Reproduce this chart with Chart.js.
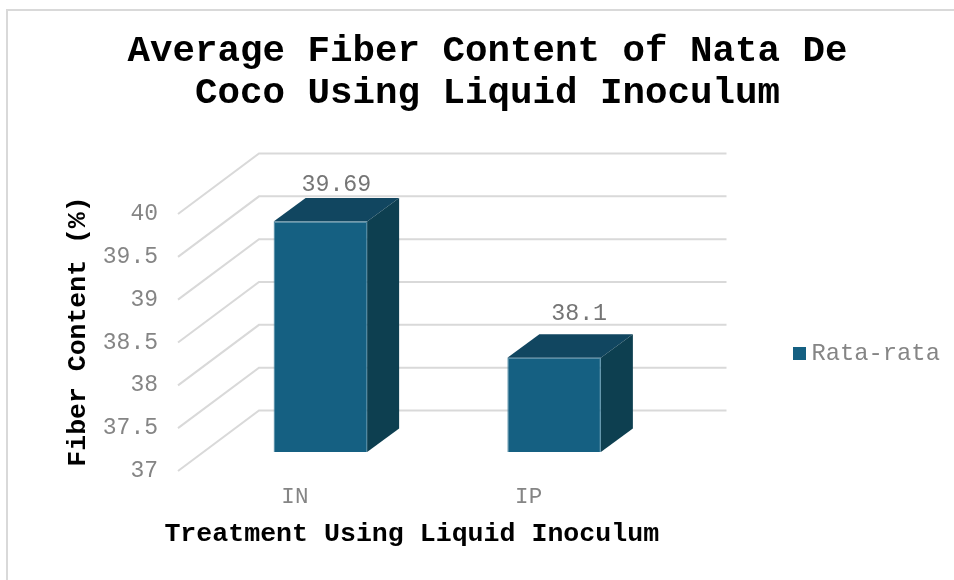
<!DOCTYPE html>
<html>
<head>
<meta charset="utf-8">
<style>
  html, body { margin: 0; padding: 0; background: #fff; }
  canvas { display: block; }
</style>
<script src="https://cdn.jsdelivr.net/npm/chart.js@4"></script>
</head>
<body>
<canvas id="chart" width="954" height="580"></canvas>
<script>
const categories = ['IN', 'IP'];
const seriesName = 'Rata-rata';
const averages = [39.69, 38.1];
const valueLabels = ['39.69', '38.1'];
const chartTitle = ['Average Fiber Content of Nata De', 'Coco Using Liquid Inoculum'];
const xTitle = 'Treatment Using Liquid Inoculum';
const yTitle = 'Fiber Content (%)';
const axisMin = 37;
const axisMax = 40;

const MONO = '"Liberation Mono", monospace';
const TEXT_GREY = '#858585';
const FRONT = '#156082';
const SIDE = '#0d3f50';
const TOP = '#114660';
const GRID = '#d9d9d9';

// Projection of the pseudo-3D box: wall depth, and where the bars stand inside it.
const WALL = { dx: 81, dy: -60.5 };
const BAR_PLANE = { dx: 25.5, dy: -19 };
const BAR_DEPTH = { dx: 32, dy: -23.5 };
// Hand placement of the value labels relative to each bar's top face.
const labelLift = [13.5, 20];
const labelShift = [0, 9];

// Legend swatch, centred on the legend's point-style anchor.
const swatch = document.createElement('canvas');
swatch.width = 13;
swatch.height = 13;
const swatchCtx = swatch.getContext('2d');
swatchCtx.fillStyle = FRONT;
swatchCtx.fillRect(0, 0, 13, 13);

const box3d = {
  id: 'box3d',
  afterLayout(chart) {
    chart.legend.top += 48;
    chart.legend.bottom += 48;
    chart.legend.left -= 13;
    chart.legend.right -= 13;
    // The value-axis title sits a little above the axis midpoint.
    const yScale = chart.scales.y;
    if (!yScale.titleAdjusted) {
      const drawTitle = yScale.drawTitle;
      yScale.drawTitle = function () {
        this.ctx.save();
        this.ctx.translate(0, -11);
        drawTitle.call(this);
        this.ctx.restore();
      };
      yScale.titleAdjusted = true;
    }
    // The category-axis title is wider than the plot; widen its span while
    // drawing so the text keeps its natural width.
    const xScale = chart.scales.x;
    if (!xScale.titleAdjusted) {
      const drawTitle = xScale.drawTitle;
      xScale.drawTitle = function () {
        this.left -= 30;
        this.right += 30;
        drawTitle.call(this);
        this.left += 30;
        this.right -= 30;
      };
      xScale.titleAdjusted = true;
    }
  },
  beforeDraw(chart) {
    const { ctx, width, height } = chart;
    ctx.save();
    ctx.fillStyle = '#fff';
    ctx.fillRect(0, 0, width, height);
    ctx.strokeStyle = GRID;
    ctx.lineWidth = 2;
    ctx.beginPath();
    ctx.moveTo(7, height);
    ctx.lineTo(7, 10);
    ctx.lineTo(width, 10);
    ctx.stroke();
    ctx.restore();
  },
  beforeDatasetsDraw(chart) {
    const { ctx, scales, chartArea } = chart;
    // Floor-to-wall gridlines for every tick of the value axis.
    ctx.save();
    ctx.strokeStyle = GRID;
    ctx.lineWidth = 2;
    scales.y.ticks.forEach(t => {
      const y = scales.y.getPixelForValue(t.value);
      ctx.beginPath();
      ctx.moveTo(chartArea.left, y);
      ctx.lineTo(chartArea.left + WALL.dx, y + WALL.dy);
      ctx.lineTo(chartArea.right + WALL.dx, y + WALL.dy);
      ctx.stroke();
    });
    ctx.restore();

    // Everything the bars draw from here on sits on the inner plane.
    ctx.save();
    ctx.translate(BAR_PLANE.dx, BAR_PLANE.dy);
    chart.getDatasetMeta(0).data.forEach(bar => {
      const { x, y, base, width } = bar.getProps(['x', 'y', 'base', 'width'], true);
      const l = x - width / 2, r = x + width / 2;
      ctx.fillStyle = TOP;
      ctx.beginPath();
      ctx.moveTo(l, y);
      ctx.lineTo(l + BAR_DEPTH.dx, y + BAR_DEPTH.dy);
      ctx.lineTo(r + BAR_DEPTH.dx, y + BAR_DEPTH.dy);
      ctx.lineTo(r, y);
      ctx.closePath();
      ctx.fill();
      ctx.fillStyle = SIDE;
      ctx.beginPath();
      ctx.moveTo(r, y);
      ctx.lineTo(r + BAR_DEPTH.dx, y + BAR_DEPTH.dy);
      ctx.lineTo(r + BAR_DEPTH.dx, base + BAR_DEPTH.dy);
      ctx.lineTo(r, base);
      ctx.closePath();
      ctx.fill();
    });
  },
  afterDatasetsDraw(chart) {
    const { ctx } = chart;
    ctx.font = '23.3px ' + MONO;
    ctx.fillStyle = '#757575';
    ctx.textAlign = 'center';
    ctx.textBaseline = 'middle';
    chart.getDatasetMeta(0).data.forEach((bar, i) => {
      const { x, y } = bar.getProps(['x', 'y'], true);
      ctx.fillText(valueLabels[i],
        x + BAR_DEPTH.dx / 2 + labelShift[i],
        y + BAR_DEPTH.dy - labelLift[i]);
    });
    ctx.restore();
  }
};

new Chart(document.getElementById('chart'), {
  type: 'bar',
  data: {
    labels: categories,
    datasets: [{
      label: seriesName,
      data: averages,
      base: axisMin,
      yAxisID: 'y',
      backgroundColor: FRONT,
      borderColor: '#3f7f9c',
      borderWidth: 1,
      barPercentage: 0.4,
      categoryPercentage: 1,
      pointStyle: swatch
    }]
  },
  options: {
    responsive: false,
    animation: false,
    layout: { padding: { left: 21, top: 31, right: 0, bottom: 0 } },
    plugins: {
      tooltip: { enabled: false },
      title: {
        display: true,
        text: chartTitle,
        color: '#000',
        font: { family: MONO, size: 37.5, weight: 'bold', lineHeight: 1.12 },
        padding: { top: 0, bottom: 99 }
      },
      legend: {
        position: 'right',
        labels: {
          usePointStyle: true,
          pointStyleWidth: 1,
          boxHeight: 13,
          padding: 13,
          color: TEXT_GREY,
          font: { family: MONO, size: 23.8 }
        }
      }
    },
    scales: {
      x: {
        grid: { display: false, drawTicks: false },
        border: { display: false },
        ticks: { color: TEXT_GREY, font: { family: MONO, size: 22.5 }, padding: 13, maxRotation: 0 },
        title: {
          display: true,
          text: xTitle,
          color: '#000',
          font: { family: MONO, size: 26.6, weight: 'bold', lineHeight: 1 },
          padding: { top: 10, bottom: 32 }
        },
        afterFit(scale) { scale.height = 109; }
      },
      y: {
        min: axisMin,
        max: axisMax,
        grid: { display: false, drawTicks: false },
        border: { display: false },
        ticks: {
          stepSize: 0.5,
          color: TEXT_GREY,
          font: { family: MONO, size: 23 },
          padding: 20,
          callback: v => String(v)
        },
        title: {
          display: true,
          text: yTitle,
          color: '#000',
          font: { family: MONO, size: 26.5, weight: 'bold', lineHeight: 1 },
          padding: { top: 44, bottom: 0 }
        },
        afterFit(scale) { scale.width = 157; }
      },
      // Keeps the empty gutter between the plot and the legend.
      gutter: {
        type: 'linear',
        position: 'right',
        grid: { display: false, drawTicks: false },
        border: { display: false },
        ticks: { display: false },
        afterFit(scale) { scale.width = 153; }
      }
    }
  },
  plugins: [box3d]
});
</script>
</body>
</html>
